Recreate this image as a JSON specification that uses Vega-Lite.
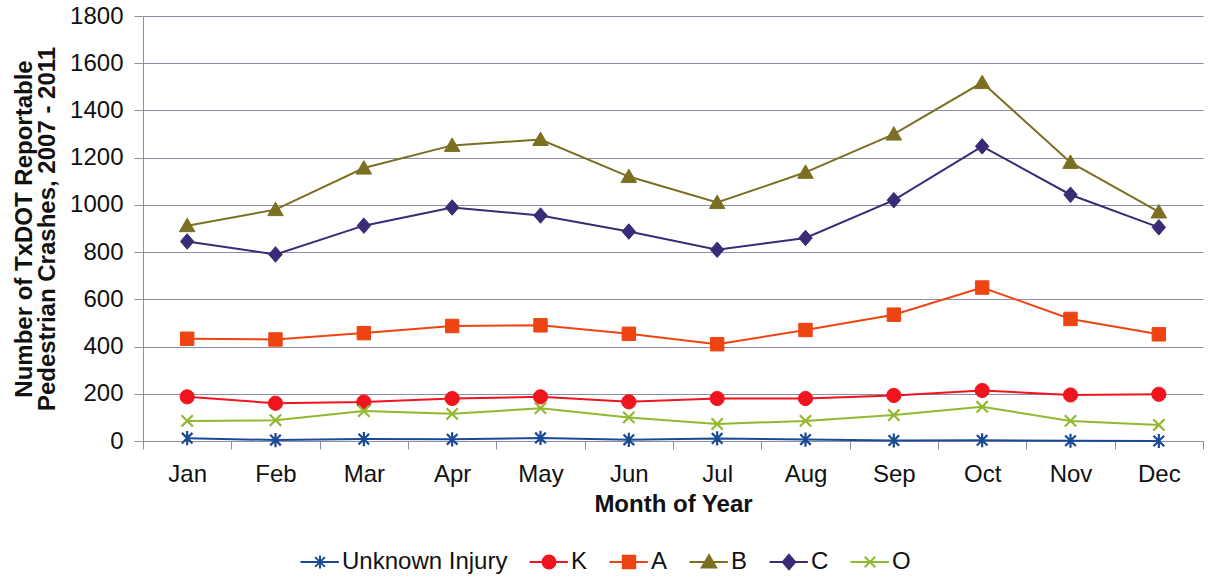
{
  "$schema": "https://vega.github.io/schema/vega-lite/v6.json",
  "width": 1060,
  "height": 425,
  "autosize": {"type": "none"},
  "padding": {"left": 143, "top": 16, "right": 5, "bottom": 136},
  "background": "white",
  "config": {
    "font": "Liberation Sans",
    "view": {"stroke": null},
    "axis": {"labelFont": "Liberation Sans", "titleFont": "Liberation Sans", "labelColor": "#111111", "titleColor": "#111111"},
    "legend": {"labelFont": "Liberation Sans"}
  },
  "data": {
    "values": [
      {"month": "Jan", "series": "Unknown Injury", "value": 12},
      {"month": "Feb", "series": "Unknown Injury", "value": 4},
      {"month": "Mar", "series": "Unknown Injury", "value": 8},
      {"month": "Apr", "series": "Unknown Injury", "value": 7},
      {"month": "May", "series": "Unknown Injury", "value": 13},
      {"month": "Jun", "series": "Unknown Injury", "value": 5},
      {"month": "Jul", "series": "Unknown Injury", "value": 11},
      {"month": "Aug", "series": "Unknown Injury", "value": 6},
      {"month": "Sep", "series": "Unknown Injury", "value": 2},
      {"month": "Oct", "series": "Unknown Injury", "value": 3},
      {"month": "Nov", "series": "Unknown Injury", "value": 1},
      {"month": "Dec", "series": "Unknown Injury", "value": 0},
      {"month": "Jan", "series": "K", "value": 187},
      {"month": "Feb", "series": "K", "value": 160},
      {"month": "Mar", "series": "K", "value": 165},
      {"month": "Apr", "series": "K", "value": 180},
      {"month": "May", "series": "K", "value": 187},
      {"month": "Jun", "series": "K", "value": 166},
      {"month": "Jul", "series": "K", "value": 180},
      {"month": "Aug", "series": "K", "value": 180},
      {"month": "Sep", "series": "K", "value": 193},
      {"month": "Oct", "series": "K", "value": 214},
      {"month": "Nov", "series": "K", "value": 195},
      {"month": "Dec", "series": "K", "value": 198},
      {"month": "Jan", "series": "A", "value": 433},
      {"month": "Feb", "series": "A", "value": 430},
      {"month": "Mar", "series": "A", "value": 457},
      {"month": "Apr", "series": "A", "value": 487},
      {"month": "May", "series": "A", "value": 490},
      {"month": "Jun", "series": "A", "value": 454},
      {"month": "Jul", "series": "A", "value": 410},
      {"month": "Aug", "series": "A", "value": 470},
      {"month": "Sep", "series": "A", "value": 535},
      {"month": "Oct", "series": "A", "value": 650},
      {"month": "Nov", "series": "A", "value": 517},
      {"month": "Dec", "series": "A", "value": 452},
      {"month": "Jan", "series": "B", "value": 912},
      {"month": "Feb", "series": "B", "value": 980},
      {"month": "Mar", "series": "B", "value": 1156},
      {"month": "Apr", "series": "B", "value": 1252},
      {"month": "May", "series": "B", "value": 1277},
      {"month": "Jun", "series": "B", "value": 1120},
      {"month": "Jul", "series": "B", "value": 1010},
      {"month": "Aug", "series": "B", "value": 1138},
      {"month": "Sep", "series": "B", "value": 1300},
      {"month": "Oct", "series": "B", "value": 1518},
      {"month": "Nov", "series": "B", "value": 1180},
      {"month": "Dec", "series": "B", "value": 970},
      {"month": "Jan", "series": "C", "value": 845},
      {"month": "Feb", "series": "C", "value": 790},
      {"month": "Mar", "series": "C", "value": 912},
      {"month": "Apr", "series": "C", "value": 989},
      {"month": "May", "series": "C", "value": 955},
      {"month": "Jun", "series": "C", "value": 887},
      {"month": "Jul", "series": "C", "value": 810},
      {"month": "Aug", "series": "C", "value": 860},
      {"month": "Sep", "series": "C", "value": 1020},
      {"month": "Oct", "series": "C", "value": 1248},
      {"month": "Nov", "series": "C", "value": 1043},
      {"month": "Dec", "series": "C", "value": 905},
      {"month": "Jan", "series": "O", "value": 85},
      {"month": "Feb", "series": "O", "value": 88},
      {"month": "Mar", "series": "O", "value": 127},
      {"month": "Apr", "series": "O", "value": 115},
      {"month": "May", "series": "O", "value": 139},
      {"month": "Jun", "series": "O", "value": 100},
      {"month": "Jul", "series": "O", "value": 72},
      {"month": "Aug", "series": "O", "value": 85},
      {"month": "Sep", "series": "O", "value": 110},
      {"month": "Oct", "series": "O", "value": 145},
      {"month": "Nov", "series": "O", "value": 85},
      {"month": "Dec", "series": "O", "value": 68}
    ]
  },
  "encoding": {
    "x": {
      "field": "month", "type": "ordinal",
      "sort": ["Jan","Feb","Mar","Apr","May","Jun","Jul","Aug","Sep","Oct","Nov","Dec"],
      "scale": {"type": "band", "paddingInner": 0, "paddingOuter": 0},
      "axis": {
        "title": "Month of Year", "titleFontSize": 24, "titleFontWeight": "bold", "titlePadding": 6,
        "labelAngle": 0, "labelFontSize": 24, "labelPadding": 13,
        "tickBand": "extent", "tickSize": 8, "tickColor": "#8d8da6", "domainColor": "#8d8da6", "grid": false
      }
    },
    "y": {
      "field": "value", "type": "quantitative",
      "scale": {"domain": [0, 1800], "nice": false},
      "axis": {
        "title": ["Number of TxDOT Reportable", "Pedestrian Crashes, 2007 - 2011"],
        "titleFontSize": 24, "titleFontWeight": "bold", "titleLineHeight": 23, "titlePadding": 10,
        "values": [0,200,400,600,800,1000,1200,1400,1600,1800], "format": "d",
        "labelFontSize": 24, "labelPadding": 11, "tickSize": 9,
        "tickColor": "#8d8da6", "domainColor": "#8d8da6", "grid": true, "gridColor": "#8d8da6", "gridOpacity": 1
      }
    }
  },
  "layer": [
    {
      "transform": [{"filter": "datum.series === 'none'"}],
      "mark": {"type": "point", "filled": true, "opacity": 1, "size": 169, "strokeWidth": 2},
      "encoding": {
        "shape": {
          "field": "series", "type": "nominal",
          "scale": {
            "domain": ["Unknown Injury","K","A","B","C","O"],
            "range": [
              "M-3,0L2.9,0M-0.75,-0.75L0.75,0.75M-0.75,0.75L0.75,-0.75M0,-1L0,1",
              "M-3,0L2.9,0M-1,0A1,1,0,1,0,1,0A1,1,0,1,0,-1,0Z",
              "M-3,0L2.9,0M-0.95,-0.95L0.95,-0.95L0.95,0.95L-0.95,0.95Z",
              "M-3,0L2.9,0M0,-1.05L1.1,0.85L-1.1,0.85Z",
              "M-3,0L2.9,0M0,-1.1L0.95,0L0,1.1L-0.95,0Z",
              "M-3,0L2.9,0M-0.8,-0.8L0.8,0.8M-0.8,0.8L0.8,-0.8"
            ]
          },
          "legend": {
            "title": null, "orient": "none", "direction": "horizontal", "columns": 6,
            "legendX": 165, "legendY": 534, "padding": 0,
            "labelFontSize": 24, "labelColor": "#111111", "labelOffset": 10, "labelLimit": 0, "columnPadding": 17,
            "symbolSize": 169, "symbolStrokeWidth": 2
          }
        },
        "stroke": {"field": "series", "type": "nominal", "legend": {"title": null},
          "scale": {"domain": ["Unknown Injury","K","A","B","C","O"], "range": ["#1a4a96","#f0141e","#ee4411","#7b6f22","#3b2a76","#92b830"]}},
        "fill": {"field": "series", "type": "nominal", "legend": {"title": null},
          "scale": {"domain": ["Unknown Injury","K","A","B","C","O"], "range": ["#1a4a96","#f0141e","#ee4411","#7b6f22","#3b2a76","#92b830"]}}
      }
    },
    {
      "mark": {"type": "line", "strokeWidth": 2},
      "encoding": {
        "stroke": {"field": "series", "type": "nominal", "legend": null}
      }
    },
    {
      "transform": [{"filter": "datum.series === 'Unknown Injury'"}],
      "mark": {"type": "point", "filled": true, "opacity": 1, "size": 200, "strokeWidth": 2.2, "shape": "M-0.75,-0.75L0.75,0.75M-0.75,0.75L0.75,-0.75M0,-1L0,1"},
      "encoding": {"stroke": {"field": "series", "type": "nominal", "legend": null}, "fill": {"field": "series", "type": "nominal", "legend": null}}
    },
    {
      "transform": [{"filter": "datum.series === 'K'"}],
      "mark": {"type": "point", "filled": true, "opacity": 1, "size": 200, "strokeWidth": 1, "shape": "M-1,0A1,1,0,1,0,1,0A1,1,0,1,0,-1,0Z"},
      "encoding": {"stroke": {"field": "series", "type": "nominal", "legend": null}, "fill": {"field": "series", "type": "nominal", "legend": null}}
    },
    {
      "transform": [{"filter": "datum.series === 'A'"}],
      "mark": {"type": "point", "filled": true, "opacity": 1, "size": 200, "strokeWidth": 1, "shape": "M-0.95,-0.95L0.95,-0.95L0.95,0.95L-0.95,0.95Z"},
      "encoding": {"stroke": {"field": "series", "type": "nominal", "legend": null}, "fill": {"field": "series", "type": "nominal", "legend": null}}
    },
    {
      "transform": [{"filter": "datum.series === 'B'"}],
      "mark": {"type": "point", "filled": true, "opacity": 1, "size": 200, "strokeWidth": 1, "shape": "M0,-1.05L1.1,0.85L-1.1,0.85Z"},
      "encoding": {"stroke": {"field": "series", "type": "nominal", "legend": null}, "fill": {"field": "series", "type": "nominal", "legend": null}}
    },
    {
      "transform": [{"filter": "datum.series === 'C'"}],
      "mark": {"type": "point", "filled": true, "opacity": 1, "size": 200, "strokeWidth": 1, "shape": "M0,-1.1L0.95,0L0,1.1L-0.95,0Z"},
      "encoding": {"stroke": {"field": "series", "type": "nominal", "legend": null}, "fill": {"field": "series", "type": "nominal", "legend": null}}
    },
    {
      "transform": [{"filter": "datum.series === 'O'"}],
      "mark": {"type": "point", "filled": true, "opacity": 1, "size": 200, "strokeWidth": 2.2, "shape": "M-0.8,-0.8L0.8,0.8M-0.8,0.8L0.8,-0.8"},
      "encoding": {"stroke": {"field": "series", "type": "nominal", "legend": null}, "fill": {"field": "series", "type": "nominal", "legend": null}}
    }
  ]
}
